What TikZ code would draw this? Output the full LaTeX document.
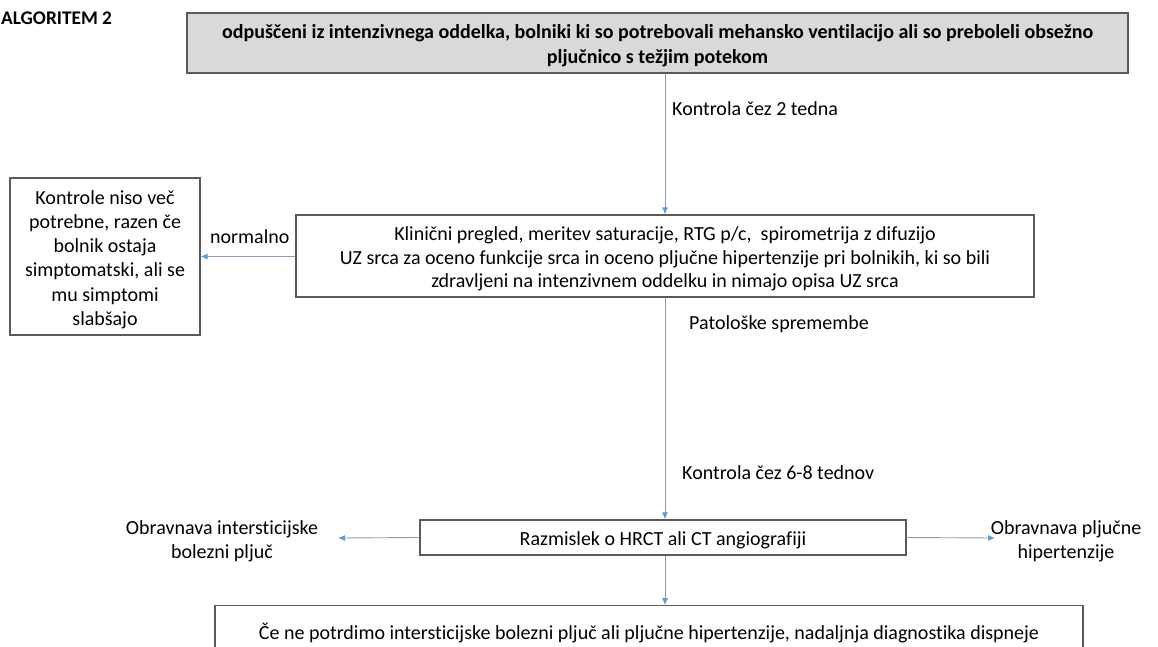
\documentclass[tikz,border=0pt]{standalone}
\usepackage{fontspec}
\setmainfont{Carlito}[Ligatures={NoCommon}]
\usetikzlibrary{arrows.meta}
\definecolor{boxline}{HTML}{5A5A5A}
\definecolor{boxfill}{HTML}{D9D9D9}
\definecolor{arrline}{HTML}{8A9CB8}
\definecolor{arrhead}{HTML}{5B9BD5}
\tikzset{
  box/.style={draw=boxline, line width=1.3pt, fill=white, inner sep=0pt},
  plain/.style={align=center, inner sep=0pt, font=\fontsize{20}{24}\selectfont},
  boxtext/.style={plain, yshift=-3pt},
  arr/.style={draw=arrline, line width=0.9pt, -{Latex[length=7pt,width=6pt,color=arrhead]}},
}
\begin{document}
\begin{tikzpicture}[x=1pt,y=-1pt]
\useasboundingbox (0,0) rectangle (1158,646);
\clip (0,0) rectangle (1158,646);
\node[anchor=west, font=\fontsize{19.3}{22}\selectfont\bfseries, inner sep=0pt] (title) at (1,18) {ALGORITEM 2};
\node[box, fill=boxfill, minimum width=941pt, minimum height=60pt] (top) at (657.5,43) {};
\node[boxtext, font=\fontsize{20}{25}\selectfont\bfseries] (toptext) at (top.center)
  {odpuščeni iz intenzivnega oddelka, bolniki ki so potrebovali mehansko ventilacijo ali so preboleli obsežno\\pljučnico s težjim potekom};
\node[box, minimum width=738pt, minimum height=82pt] (exam) at (665,256) {};
\node[boxtext, font=\fontsize{20}{23.5}\selectfont] (examtext) at (exam.center)
  {Klinični pregled, meritev saturacije, RTG p/c,\ \ spirometrija z difuzijo\\UZ srca za oceno funkcije srca in oceno pljučne hipertenzije pri bolnikih, ki so bili\\zdravljeni na intenzivnem oddelku in nimajo opisa UZ srca};
\node[box, minimum width=190pt, minimum height=157pt] (normal) at (105,256.5) {};
\node[boxtext, font=\fontsize{20}{24.2}\selectfont] (normaltext) at (normal.center)
  {Kontrole niso več\\potrebne, razen če\\bolnik ostaja\\simptomatski, ali se\\mu simptomi\\slabšajo};
\node[box, minimum width=486pt, minimum height=35pt] (hrct) at (663,537.5) {};
\node[boxtext] (hrcttext) at (hrct.center) {Razmislek o HRCT ali CT angiografiji};
\node[box, minimum width=868pt, minimum height=60pt, anchor=north] (dysp) at (649,605) {};
\node[plain, anchor=center] (dysptext) at (649,633)
  {Če ne potrdimo intersticijske bolezni pljuč ali pljučne hipertenzije, nadaljnja diagnostika dispneje};
\node[plain] (ild) at (222,541) {Obravnava intersticijske\\bolezni pljuč};
\node[plain] (ph) at (1066,541) {Obravnava pljučne\\hipertenzije};
\coordinate (ildend) at (338,538);
\coordinate (phend) at (995,538);
\node[plain, anchor=west] (l1) at (672,109) {Kontrola čez 2 tedna};
\node[plain, anchor=west] (l2) at (210,237) {normalno};
\node[plain, anchor=west] (l3) at (689,324) {Patološke spremembe};
\node[plain, anchor=west] (l4) at (682,473) {Kontrola čez 6-8 tednov};
\draw[arr] (top.south -| exam.north) -- (exam.north);
\draw[arr] (exam.west |- normal.east) -- (normal.east);
\draw[arr] (exam.south) -- (exam.south |- hrct.north);
\draw[arr] (hrct.west) -- (ildend);
\draw[arr] (hrct.east) -- (phend);
\draw[arr] (hrct.south -| exam.south) -- (exam.south |- dysp.north);
\end{tikzpicture}
\end{document}
